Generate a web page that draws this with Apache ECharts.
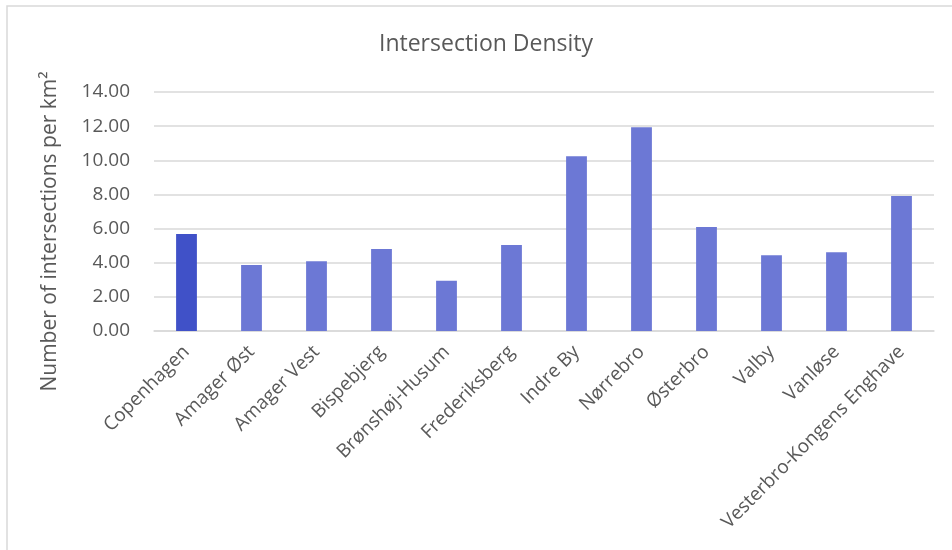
<!DOCTYPE html>
<html>
<head>
<meta charset="utf-8">
<script src="https://cdn.jsdelivr.net/npm/echarts@6/dist/echarts.min.js"></script>
<style>
  html, body { margin: 0; padding: 0; background: #fff; }
  #chart { width: 952px; height: 550px; }
</style>
</head>
<body>
<div id="chart"></div>
<script>
// districts and intersection density (per km2)
var districts = ['Copenhagen', 'Amager Øst', 'Amager Vest', 'Bispebjerg', 'Brønshøj-Husum', 'Frederiksberg',
  'Indre By', 'Nørrebro', 'Østerbro', 'Valby', 'Vanløse', 'Vesterbro-Kongens Enghave'];
var density = [5.68, 3.87, 4.08, 4.80, 2.95, 5.04, 10.23, 11.93, 6.09, 4.43, 4.61, 7.91];
var yTicks = [0, 2, 4, 6, 8, 10, 12, 14];

var txt = '#595959';
var gridCol = '#D9D9D9';

var chart = echarts.init(document.getElementById('chart'));
chart.setOption({
  backgroundColor: '#fff',
  animation: false,
  title: {
    text: 'Intersection Density',
    left: 481,
    textAlign: 'center',
    top: 28,
    textStyle: { color: txt, fontSize: 23, fontWeight: 'normal', fontFamily: 'Open Sans' }
  },
  graphic: [{
    type: 'rect',
    shape: { x: 7, y: 6, width: 1000, height: 1000 },
    style: { fill: 'none', stroke: gridCol, lineWidth: 1.5 },
    silent: true
  }],
  grid: { left: 154, right: 18, top: 92, bottom: 219 },
  xAxis: {
    type: 'category',
    data: districts,
    axisTick: { show: false },
    axisLine: { lineStyle: { color: gridCol, width: 1.5 } },
    axisLabel: {
      interval: 0,
      rotate: 45,
      margin: 18,
      color: txt,
      fontSize: 19,
      fontFamily: 'Open Sans'
    }
  },
  yAxis: {
    type: 'value',
    min: yTicks[0],
    max: yTicks[yTicks.length - 1],
    interval: 2,
    name: 'Number of intersections per km²',
    nameLocation: 'middle',
    nameGap: 93,
    nameTextStyle: { color: txt, fontSize: 21, fontFamily: 'Open Sans', padding: [0, 40, 0, 0] },
    axisLine: { show: false },
    axisTick: { show: false },
    splitLine: { lineStyle: { color: gridCol, width: 1.5 } },
    axisLabel: {
      margin: 24,
      color: txt,
      fontSize: 19,
      fontFamily: 'Open Sans',
      formatter: function (v) { return v.toFixed(2); }
    }
  },
  series: [{
    type: 'bar',
    barWidth: '32%',
    data: density.map(function (v, i) {
      return { value: v, itemStyle: { color: i === 0 ? '#4051C8' : '#6C78D5' } };
    })
  }]
});
</script>
</body>
</html>
